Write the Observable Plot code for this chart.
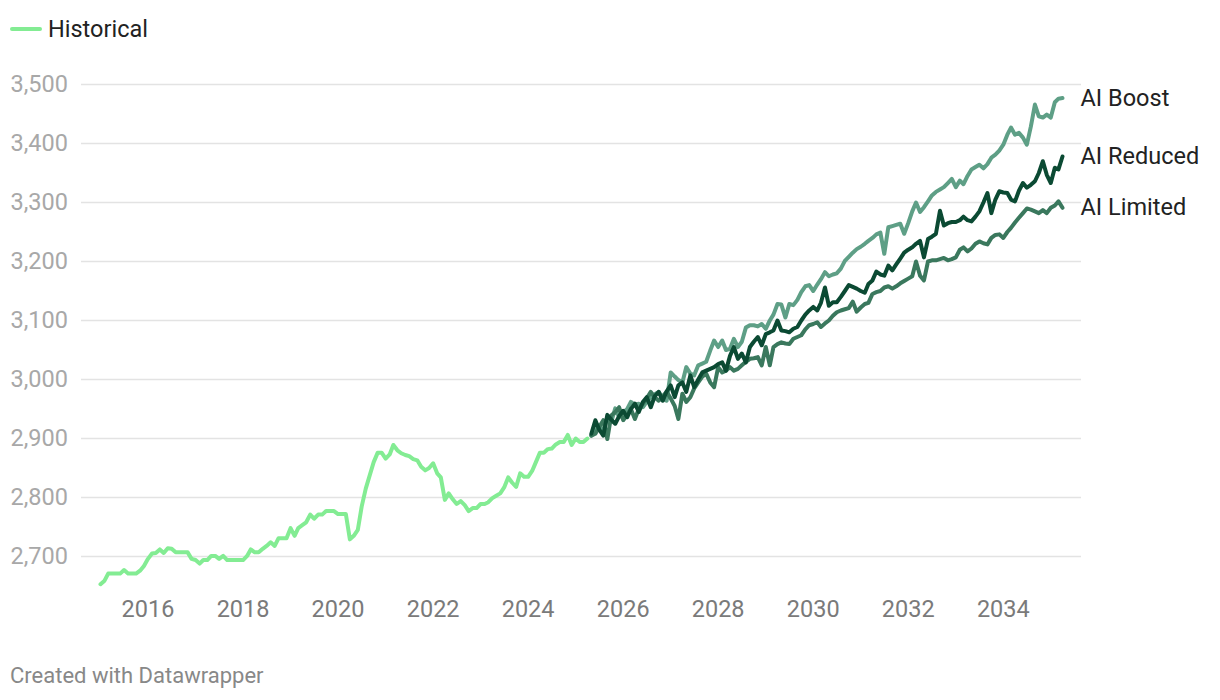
<!DOCTYPE html>
<html>
<head>
<meta charset="utf-8">
<script src="https://cdn.jsdelivr.net/npm/d3@7"></script>
<script src="https://cdn.jsdelivr.net/npm/@observablehq/plot@0.6"></script>
<style>
  html, body { margin: 0; padding: 0; background: #fff; }
  body { width: 1220px; height: 700px; position: relative; overflow: hidden; font-family: Roboto, "Noto Sans", sans-serif; }
  #legend { position: absolute; left: 10px; top: 15px; display: flex; align-items: center; font-size: 23.5px; color: #222; }
  #legend .sw { width: 32px; height: 4px; border-radius: 2px; background: #83ec93; margin-right: 6px; }
  #chart { position: absolute; left: 0; top: 0; }
  #caption { position: absolute; left: 10px; top: 663px; font-size: 22px; color: #888; }
</style>
</head>
<body>
<div id="chart"></div>
<div id="legend"><span class="sw"></span><span>Historical</span></div>
<div id="caption">Created with Datawrapper</div>
<script>
// ---- data ----
const historicalStart = [2015, 0]; // Jan 2015, monthly
const historical = [
  2653, 2659, 2671, 2671, 2671, 2671, 2677, 2671, 2671, 2671, 2676, 2684,
  2696, 2705, 2706, 2712, 2706, 2714, 2713, 2707, 2707, 2707, 2707, 2696,
  2694, 2688, 2694, 2694, 2701, 2701, 2696, 2701, 2694, 2694, 2694, 2694,
  2694, 2701, 2712, 2707, 2707, 2713, 2718, 2724, 2718, 2731, 2731, 2731,
  2748, 2735, 2748, 2753, 2758, 2771, 2764, 2771, 2771, 2777, 2777, 2777,
  2772, 2772, 2772, 2729, 2735, 2745, 2785, 2815, 2838, 2860, 2876, 2876,
  2866, 2873, 2889, 2880, 2875, 2872, 2870, 2865, 2863, 2852, 2846, 2850,
  2858, 2841, 2834, 2796, 2807, 2797, 2789, 2794, 2787, 2777, 2782, 2782,
  2789, 2789, 2792, 2799, 2803, 2807, 2817, 2834, 2825, 2818, 2841, 2835,
  2835, 2845, 2860, 2876, 2876, 2882, 2883, 2890, 2894, 2894, 2906, 2889,
  2900, 2894, 2894, 2900
];
const forecastStart = [2025, 4]; // May 2025, monthly
const aiBoost = [
  2905, 2914, 2922, 2912, 2935, 2928, 2951, 2936,
  2944, 2950, 2962, 2957, 2959, 2953, 2962, 2970, 2975, 2979, 2968, 2964,
  3012, 3005, 2999, 2995, 3021, 3010, 3007, 3024, 3027, 3030, 3049, 3066,
  3055, 3066, 3050, 3052, 3069, 3055, 3064, 3088, 3092, 3092, 3090, 3094,
  3086, 3100, 3110, 3128, 3127, 3105, 3128, 3126, 3135, 3148, 3158, 3160,
  3150, 3161, 3170, 3182, 3175, 3178, 3180, 3188, 3201, 3208, 3215, 3221,
  3225, 3230, 3235, 3240, 3246, 3249, 3213, 3258, 3260, 3262, 3264, 3247,
  3265, 3285, 3300, 3284, 3292, 3302, 3312, 3318, 3322, 3326, 3333, 3340,
  3326, 3337, 3331, 3345, 3356, 3360, 3364, 3358, 3365, 3376, 3381, 3388,
  3398, 3415, 3427, 3415, 3418, 3410, 3398, 3429, 3466, 3446, 3444, 3449,
  3444, 3470, 3476, 3477
];
const aiReduced = [
  2908, 2931, 2915, 2905, 2940, 2932, 2925, 2938,
  2947, 2936, 2950, 2959, 2945, 2962, 2970, 2953, 2972, 2979, 2964, 2980,
  2990, 2970, 2990, 2995, 2979, 3007, 2987, 3000, 3012, 3015, 3018, 3021,
  3026, 3029, 3015, 3040, 3055, 3035, 3044, 3029, 3055, 3064, 3072, 3058,
  3077, 3080, 3083, 3100, 3083, 3082, 3080, 3086, 3089, 3100, 3110, 3117,
  3123, 3117, 3130, 3156, 3125, 3131, 3131, 3140, 3150, 3160, 3157, 3154,
  3150, 3147, 3162, 3168, 3183, 3178, 3176, 3193, 3185, 3195, 3205, 3215,
  3220, 3224, 3230, 3235, 3207, 3238, 3242, 3247, 3286, 3261, 3265, 3267,
  3267, 3270, 3276, 3270, 3268, 3276, 3285, 3300, 3316, 3282, 3305, 3319,
  3317, 3316, 3305, 3302, 3320, 3333, 3325, 3330, 3336, 3350, 3370, 3347,
  3333, 3359, 3356, 3378
];
const aiLimited = [
  2905, 2908, 2920, 2931, 2899, 2939, 2945, 2953,
  2931, 2940, 2950, 2933, 2950, 2959, 2968, 2979, 2970, 2964, 2972, 2979,
  2968, 2955, 2933, 2976, 2962, 2970, 2985, 2995, 3005, 3010, 2995, 2987,
  3021, 3012, 3015, 3021, 3015, 3018, 3024, 3030, 3035, 3036, 3038, 3024,
  3055, 3024, 3055, 3060, 3063, 3061, 3060, 3069, 3072, 3075, 3085, 3092,
  3094, 3097, 3089, 3095, 3100, 3108, 3114, 3117, 3119, 3121, 3132, 3115,
  3122, 3128, 3130, 3145, 3148, 3150, 3156, 3158, 3154, 3158, 3163, 3167,
  3171, 3175, 3200, 3176, 3168, 3200, 3202, 3202, 3204, 3206, 3202, 3204,
  3207, 3220, 3224, 3217, 3222, 3230, 3234, 3231, 3229, 3240, 3245, 3246,
  3240, 3250, 3257, 3266, 3274, 3282, 3290, 3288, 3285, 3282, 3287, 3282,
  3291, 3295, 3302, 3291
];
const seriesNames = ["AI Boost", "AI Limited", "AI Reduced"];
const seriesValues = [aiBoost, aiLimited, aiReduced];
const seriesColors = ["#5e9f86", "#3a785d", "#0b4a33"];
const historicalColor = "#83ec93";
const yTicks = [2700, 2800, 2900, 3000, 3100, 3200, 3300, 3400, 3500];
const xTickYears = [2016, 2018, 2020, 2022, 2024, 2026, 2028, 2030, 2032, 2034];
const yDomain = [2650, 3500];

// ---- build tables ----
const monthDate = (start, i) => new Date(Date.UTC(start[0], start[1] + i, 1));
const histData = historical.map((v, i) => ({date: monthDate(historicalStart, i), value: v}));
const fcData = seriesNames.flatMap((name, s) =>
  seriesValues[s].map((v, i) => ({series: name, date: monthDate(forecastStart, i), value: v})));
const lastPoints = seriesNames.map((name, s) => {
  const vals = seriesValues[s];
  return {series: name, date: monthDate(forecastStart, vals.length - 1), value: vals[vals.length - 1]};
});
const xDomain = [histData[0].date, lastPoints[0].date];
const xTicks = xTickYears.map(y => new Date(Date.UTC(y, 0, 1)));

const chart = Plot.plot({
  width: 1220,
  height: 640,
  marginLeft: 100,
  marginRight: 158,
  marginTop: 84,
  marginBottom: 54.5,
  style: {fontFamily: "Roboto, 'Noto Sans', sans-serif", background: "transparent"},
  x: {type: "utc", domain: xDomain},
  y: {domain: yDomain},
  color: {domain: seriesNames, range: seriesColors},
  marks: [
    Plot.ruleY(yTicks, {stroke: "#e3e3e3", strokeWidth: 1.5, insetLeft: -19, insetRight: -19}),
    Plot.axisY({ticks: yTicks, tickSize: 0, tickPadding: 0, tickFormat: d3.format(","), textAnchor: "start", dx: -90, fill: "#a8a8a8", fontSize: 23.5, label: null}),
    Plot.axisX({ticks: xTicks, tickSize: 0, tickPadding: 14, tickFormat: d3.utcFormat("%Y"), fill: "#7a7a7a", fontSize: 23.5, label: null}),
    Plot.line(histData, {x: "date", y: "value", stroke: historicalColor, strokeWidth: 4, strokeLinejoin: "round", strokeLinecap: "round"}),
    Plot.line(fcData, {x: "date", y: "value", z: "series", stroke: "series", strokeWidth: 4, strokeLinejoin: "round", strokeLinecap: "round"}),
    Plot.text(lastPoints, {x: "date", y: "value", text: "series", dx: 18, textAnchor: "start", fill: "#222", fontSize: 23.5})
  ]
});
document.getElementById("chart").appendChild(chart);
</script>
</body>
</html>
